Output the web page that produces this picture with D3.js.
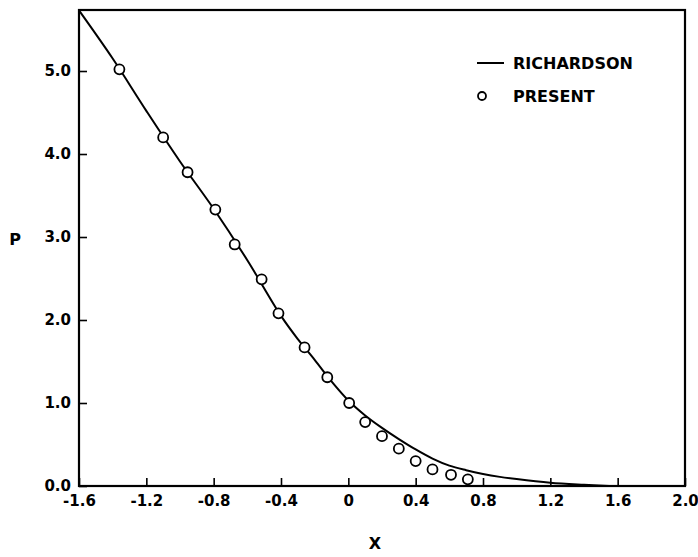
<!DOCTYPE html>
<html>
<head>
<meta charset="utf-8">
<script src="https://cdn.jsdelivr.net/npm/d3@7"></script>
<style>
  body { margin: 0; background: #fff; }
  text { font-family: "DejaVu Sans", sans-serif; font-weight: bold; fill: #000; }
</style>
</head>
<body>
<div id="chart"></div>
<script>
// Richardson solution (solid curve)
var richX = [-1.6, -1.4, -1.2, -1.0, -0.8, -0.6, -0.4, -0.3, -0.2, -0.1, 0.0, 0.1, 0.2, 0.3, 0.4, 0.5, 0.6, 0.7, 0.8, 0.9, 1.0, 1.2, 1.4, 1.55];
var richP = [5.73, 5.15, 4.52, 3.91, 3.34, 2.72, 2.05, 1.77, 1.52, 1.26, 1.03, 0.85, 0.70, 0.565, 0.44, 0.33, 0.245, 0.19, 0.145, 0.11, 0.083, 0.04, 0.015, 0.0];

// Present results (open circles)
var presX = [-1.36, -1.10, -0.955, -0.79, -0.675, -0.515, -0.415, -0.26, -0.125, 0.005, 0.10, 0.20, 0.30, 0.40, 0.50, 0.61, 0.71];
var presP = [5.02, 4.20, 3.78, 3.33, 2.91, 2.49, 2.08, 1.67, 1.31, 1.00, 0.77, 0.60, 0.45, 0.30, 0.20, 0.135, 0.08];

var xTicks = [-1.6, -1.2, -0.8, -0.4, 0, 0.4, 0.8, 1.2, 1.6, 2.0];
var xTickLabels = ["-1.6", "-1.2", "-0.8", "-0.4", "0", "0.4", "0.8", "1.2", "1.6", "2.0"];
var yTicks = [0, 1, 2, 3, 4, 5];
var yTickLabels = ["0.0", "1.0", "2.0", "3.0", "4.0", "5.0"];

var svgWidth = 698;
var svgHeight = 557;
var margin = { top: 10, right: 13, bottom: 71, left: 79 };
var chartWidth = svgWidth - margin.left - margin.right;
var chartHeight = svgHeight - margin.top - margin.bottom;

var svg = d3.select("#chart")
  .append("svg")
  .attr("width", svgWidth)
  .attr("height", svgHeight);

var chart = svg.append("g")
  .attr("transform", `translate(${margin.left}, ${margin.top})`);

var x = d3.scaleLinear().domain([-1.6, 2.0]).range([0, chartWidth]);
var y = d3.scaleLinear().domain([0, 5.735]).range([chartHeight, 0]);

// axes, ticks pointing inward
var bottomAxis = d3.axisBottom(x)
  .tickValues(xTicks)
  .tickFormat(function(d, i) { return xTickLabels[i]; })
  .tickSizeInner(-8)
  .tickSizeOuter(0)
  .tickPadding(9);

var leftAxis = d3.axisLeft(y)
  .tickValues(yTicks)
  .tickFormat(function(d, i) { return yTickLabels[i]; })
  .tickSizeInner(-8)
  .tickSizeOuter(0)
  .tickPadding(8);

var gx = chart.append("g")
  .attr("transform", `translate(0, ${chartHeight})`)
  .call(bottomAxis);

var gy = chart.append("g").call(leftAxis);

[gx, gy].forEach(function(g) {
  g.selectAll("text").style("font-size", "15px").style("font-family", "DejaVu Sans").style("font-weight", "bold");
  g.selectAll("line").attr("stroke", "#000").attr("stroke-width", 1.6);
  g.select(".domain").remove();
});

// frame
chart.append("rect")
  .attr("x", 0)
  .attr("y", 0)
  .attr("width", chartWidth)
  .attr("height", chartHeight)
  .attr("fill", "none")
  .attr("stroke", "#000")
  .attr("stroke-width", 2.2);

// Richardson curve
var richData = richX.map(function(d, i) { return { x: d, p: richP[i] }; });
var line = d3.line()
  .x(function(d) { return x(d.x); })
  .y(function(d) { return y(d.p); })
  .curve(d3.curveCatmullRom);

chart.append("path")
  .datum(richData)
  .attr("d", line)
  .attr("fill", "none")
  .attr("stroke", "#000")
  .attr("stroke-width", 2);

// Present circles
var presData = presX.map(function(d, i) { return { x: d, p: presP[i] }; });
chart.selectAll("circle.present")
  .data(presData)
  .enter().append("circle")
    .attr("class", "present")
    .attr("cx", function(d) { return x(d.x); })
    .attr("cy", function(d) { return y(d.p); })
    .attr("r", 5)
    .attr("fill", "#fff")
    .attr("stroke", "#000")
    .attr("stroke-width", 1.8);

// axis titles
svg.append("text")
  .attr("x", 15)
  .attr("y", 239)
  .attr("dy", "0.35em")
  .style("text-anchor", "middle")
  .style("font-size", "16px")
  .text("P");

svg.append("text")
  .attr("x", 375)
  .attr("y", 543)
  .attr("dy", "0.35em")
  .style("text-anchor", "middle")
  .style("font-size", "16px")
  .text("X");

// legend
var legend = svg.append("g");
legend.append("line")
  .attr("x1", 477).attr("x2", 504)
  .attr("y1", 63).attr("y2", 63)
  .attr("stroke", "#000")
  .attr("stroke-width", 2);
legend.append("text")
  .attr("x", 513).attr("y", 69)
  .style("font-size", "16px")
  .text("RICHARDSON");
legend.append("circle")
  .attr("cx", 482).attr("cy", 96)
  .attr("r", 4)
  .attr("fill", "#fff")
  .attr("stroke", "#000")
  .attr("stroke-width", 1.8);
legend.append("text")
  .attr("x", 513).attr("y", 102)
  .style("font-size", "16px")
  .text("PRESENT");
</script>
</body>
</html>
